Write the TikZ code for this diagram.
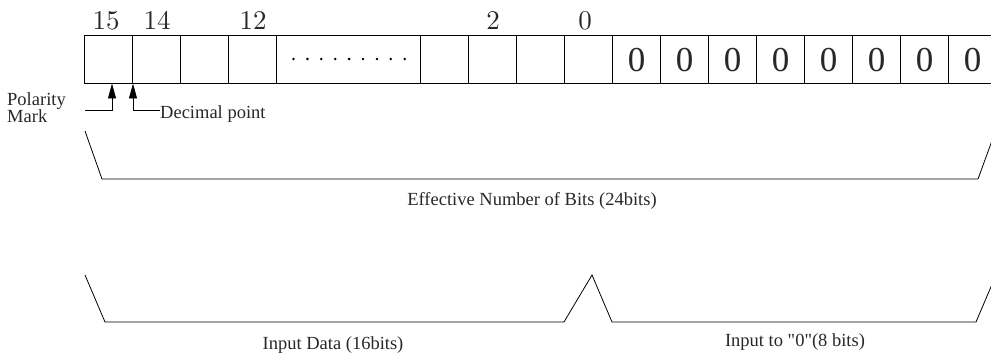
\documentclass[tikz,border=0pt]{standalone}
\usepackage{fontspec}
\newfontfamily\tms{Liberation Serif}
\newfontfamily\lmd{lmroman10-regular.otf}
\usetikzlibrary{arrows.meta}
\definecolor{ink}{RGB}{40,40,40}
\tikzset{
  cell/.style={draw=black, line width=0.9pt, minimum width=48pt, minimum height=48pt,
    inner sep=0pt, outer sep=0pt, anchor=north west},
  widecell/.style={cell, minimum width=144pt},
  bitnum/.style={font=\lmd\fontsize{27}{30}\selectfont, text=ink, anchor=base, inner sep=0pt},
  zero/.style={font=\tms\fontsize{35}{38}\selectfont, text=ink, anchor=base, inner sep=0pt},
  lbl/.style={font=\tms\fontsize{18.5}{16}\selectfont, text=ink, inner sep=0pt},
  brace/.style={draw=black, line width=0.8pt},
  pointer/.style={draw=black, line width=0.8pt, -{Triangle[length=15pt,width=8pt]}},
}
\begin{document}
\begin{tikzpicture}[x=1pt,y=-1pt]
\clip (0,0) rectangle (991,355);
% cells
\node[cell] (c15) at (84.5,35) {};
\node[cell] (c14) at (132.5,35) {};
\node[cell] (c13) at (180.5,35) {};
\node[cell] (c12) at (228.5,35) {};
\node[widecell] (cd) at (276.5,35) {};
\node[cell] (c3) at (420.5,35) {};
\node[cell] (c2) at (468.5,35) {};
\node[cell] (c1) at (516.5,35) {};
\node[cell] (c0) at (564.5,35) {};
\foreach \i in {0,...,7} {
  \node[cell] (z\i) at (612.5+48*\i,35) {};
  \node[zero] (zt\i) at (636.5+48*\i,72) {0};
}
% dots
\foreach \i in {0,...,8} {
  \fill[black] (293.5+13.9*\i,59) circle (1.4pt);
}
% bit numbers
\node[bitnum] (n15) at (106,30) {15};
\node[bitnum] (n14) at (157,30) {14};
\node[bitnum] (n12) at (253,30) {12};
\node[bitnum] (n2) at (493,30) {2};
\node[bitnum] (n0) at (585,30) {0};
% pointers
\coordinate (pm) at (112,83.5);
\coordinate (dp) at (133,83.5);
\node[lbl, anchor=north west, align=left] (pol) at (7,92.5) {Polarity\\[-1pt]Mark};
\node[lbl, anchor=base west] (dec) at (160,119) {Decimal point};
\draw[pointer] (85,110) -| (pm);
\draw[pointer] (dec.west |- 0,110) -| (dp);
% upper bracket
\coordinate (ua) at (85,131);
\coordinate (ub) at (102,179);
\coordinate (uc) at (978,179);
\coordinate (ud) at (995.5,131);
\draw[brace] (ua) -- (ub) -- (uc) -- (ud);
\node[lbl, anchor=base] (eff) at (532,206) {Effective Number of Bits (24bits)};
% lower bracket
\coordinate (la) at (85,275);
\coordinate (lb) at (105,322);
\coordinate (lc) at (564,322);
\coordinate (lp) at (592,275);
\coordinate (ld) at (612,322);
\coordinate (le) at (976,322);
\coordinate (lf) at (996,275);
\draw[brace] (la) -- (lb) -- (lc) -- (lp) -- (ld) -- (le) -- (lf);
\node[lbl, anchor=base] (ind) at (333,349) {Input Data (16bits)};
\node[lbl, anchor=base] (inz) at (795,347) {Input to "0"(8 bits)};
\end{tikzpicture}
\end{document}
